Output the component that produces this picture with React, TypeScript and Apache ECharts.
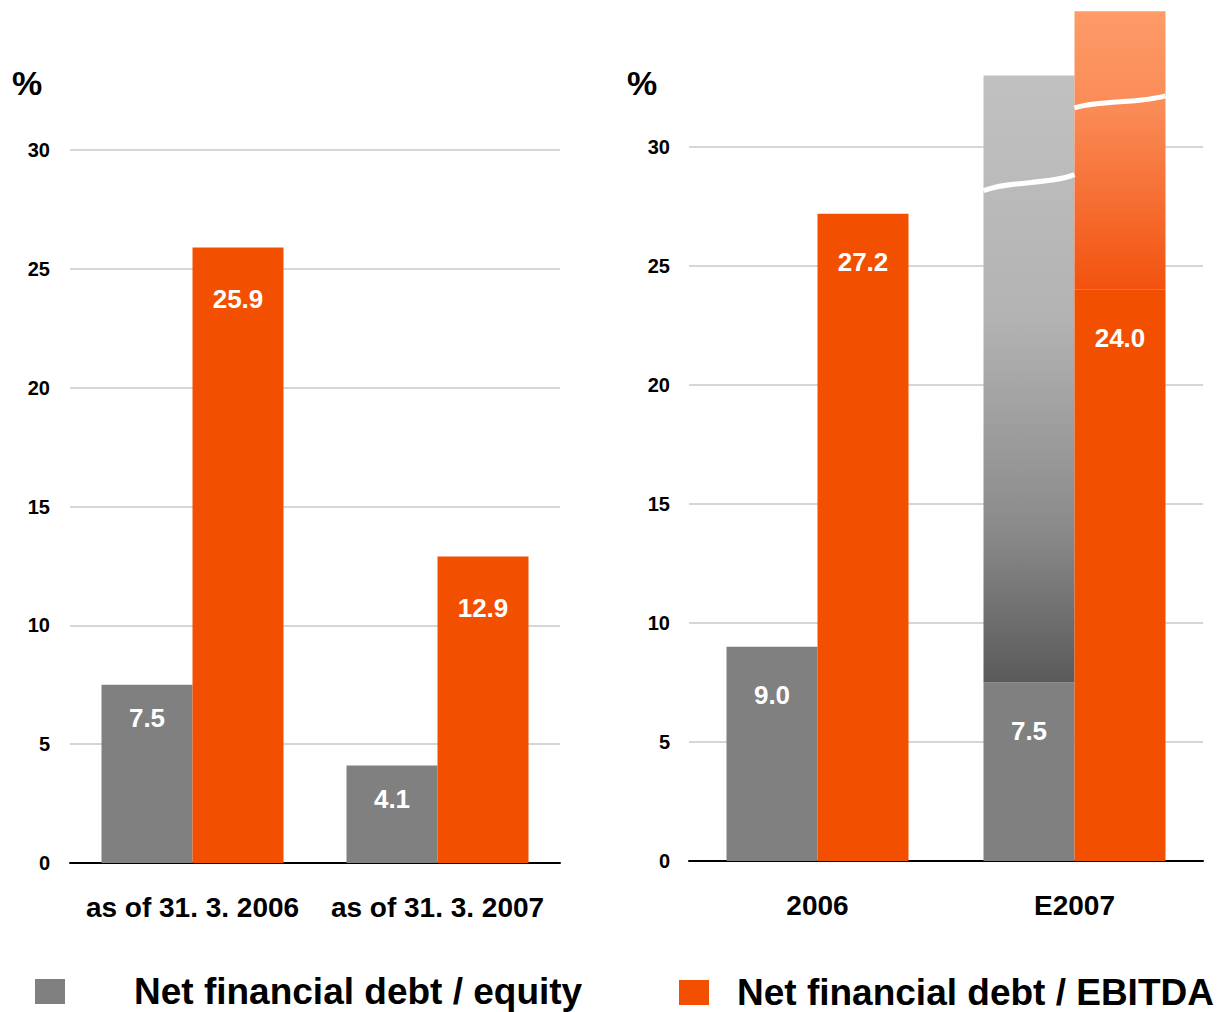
import React, { useEffect, useRef } from "react";
import * as echarts from "echarts";

const leftCategories = ["as of 31. 3. 2006", "as of 31. 3. 2007"];
const leftEquity = [7.5, 4.1];
const leftEbitda = [25.9, 12.9];

const rightCategories = ["2006", "E2007"];
const rightEquity = [9.0, 7.5];
const rightEbitda = [27.2, 24.0];
// extension (broken-axis) parts drawn above the real value
const rightEquityExt = [null, 25.5];
const rightEbitdaExt = [null, 11.7];
// break marker levels on E2007 bars: [categoryIndex, value, side]
const breakMarks = [
  [1, 28.5, -1],
  [1, 31.9, 1],
];

const yTicks = { min: 0, max: 30, interval: 5 };

const nameEquity = "Net financial debt / equity";
const nameEbitda = "Net financial debt / EBITDA";

const GRAY = "#808080";
const ORANGE = "#f25000";
const FONT = "'Liberation Sans', Arial, sans-serif";
const BAR_W = 91;

export default function App() {
  const ref = useRef<HTMLDivElement>(null);

  useEffect(() => {
    if (!ref.current) return;
    const chart = echarts.init(ref.current, null, { renderer: "svg" });

    const valueLabel = (distance: number) => ({
      show: true,
      position: "insideTop",
      distance,
      color: "#fff",
      fontSize: 26,
      fontWeight: "bold",
      fontFamily: FONT,
      formatter: (p: any) => (p.value == null ? "" : Number(p.value).toFixed(1)),
    });

    const yAxisBase = (gridIndex: number, margin: number) => ({
      type: "value",
      gridIndex,
      min: yTicks.min,
      max: yTicks.max,
      interval: yTicks.interval,
      axisLine: { show: false },
      axisTick: { show: false },
      axisLabel: {
        margin,
        color: "#000",
        fontSize: 20,
        fontWeight: "bold",
        fontFamily: FONT,
      },
      splitLine: { lineStyle: { color: "#c8c8c8", width: 1.5 } },
    });

    const xAxisBase = (gridIndex: number, data: string[]) => ({
      type: "category",
      gridIndex,
      data,
      axisLine: { lineStyle: { color: "#000", width: 2 } },
      axisTick: { show: false },
      axisLabel: {
        margin: 30,
        color: "#000",
        fontSize: 28,
        fontWeight: "bold",
        fontFamily: FONT,
        interval: 0,
      },
    });

    const legendText = (padLeft: number) => ({
      fontSize: 37,
      lineHeight: 37,
      fontWeight: "bold",
      color: "#000",
      fontFamily: FONT,
      padding: [0, 0, 0, padLeft],
    });

    const option: any = {
      animation: false,
      textStyle: { fontFamily: FONT },
      title: [
        {
          text: "%",
          left: 12,
          top: 66,
          padding: 0,
          textStyle: { fontSize: 34, fontWeight: "bold", color: "#000", fontFamily: FONT },
        },
        {
          text: "%",
          left: 627,
          top: 66,
          padding: 0,
          textStyle: { fontSize: 34, fontWeight: "bold", color: "#000", fontFamily: FONT },
        },
      ],
      legend: [
        {
          data: [nameEquity],
          left: 35,
          top: 973,
          padding: 0,
          itemWidth: 30,
          itemHeight: 25,
          icon: "rect",
          selectedMode: false,
          textStyle: legendText(64),
        },
        {
          data: [nameEbitda],
          left: 679,
          top: 974,
          padding: 0,
          itemWidth: 30,
          itemHeight: 25,
          icon: "rect",
          selectedMode: false,
          textStyle: legendText(23),
        },
      ],
      grid: [
        { left: 70, top: 150, width: 490, height: 713 },
        { left: 689, top: 147, width: 514, height: 714 },
      ],
      xAxis: [xAxisBase(0, leftCategories), xAxisBase(1, rightCategories)],
      yAxis: [yAxisBase(0, 20), yAxisBase(1, 19)],
      series: [
        {
          name: nameEquity,
          type: "bar",
          xAxisIndex: 0,
          yAxisIndex: 0,
          data: leftEquity,
          barWidth: BAR_W,
          barGap: "0%",
          itemStyle: { color: GRAY },
          label: valueLabel(20),
        },
        {
          name: nameEbitda,
          type: "bar",
          xAxisIndex: 0,
          yAxisIndex: 0,
          data: leftEbitda,
          barWidth: BAR_W,
          barGap: "0%",
          itemStyle: { color: ORANGE },
          label: valueLabel(39),
        },
        {
          name: nameEquity,
          type: "bar",
          xAxisIndex: 1,
          yAxisIndex: 1,
          stack: "eq",
          data: rightEquity,
          barWidth: BAR_W,
          barGap: "0%",
          clip: false,
          itemStyle: { color: GRAY },
          label: valueLabel(35),
        },
        {
          name: "eq-ext",
          type: "bar",
          xAxisIndex: 1,
          yAxisIndex: 1,
          stack: "eq",
          data: rightEquityExt,
          barWidth: BAR_W,
          barGap: "0%",
          clip: false,
          itemStyle: {
            color: {
              type: "linear",
              x: 0,
              y: 0,
              x2: 0,
              y2: 1,
              colorStops: [
                { offset: 0, color: "#c1c1c1" },
                { offset: 0.4, color: "#b3b3b3" },
                { offset: 0.75, color: "#8a8a8a" },
                { offset: 1, color: "#5a5a5a" },
              ],
            },
          },
        },
        {
          name: nameEbitda,
          type: "bar",
          xAxisIndex: 1,
          yAxisIndex: 1,
          stack: "eb",
          data: rightEbitda,
          barWidth: BAR_W,
          barGap: "0%",
          clip: false,
          itemStyle: { color: ORANGE },
          label: valueLabel(35),
        },
        {
          name: "eb-ext",
          type: "bar",
          xAxisIndex: 1,
          yAxisIndex: 1,
          stack: "eb",
          data: rightEbitdaExt,
          barWidth: BAR_W,
          barGap: "0%",
          clip: false,
          itemStyle: {
            color: {
              type: "linear",
              x: 0,
              y: 0,
              x2: 0,
              y2: 1,
              colorStops: [
                { offset: 0, color: "#fe9b67" },
                { offset: 0.35, color: "#fa8b57" },
                { offset: 1, color: "#f2520e" },
              ],
            },
          },
        },
        {
          name: "breaks",
          type: "custom",
          xAxisIndex: 1,
          yAxisIndex: 1,
          clip: false,
          z: 5,
          silent: true,
          data: breakMarks,
          renderItem: (params: any, api: any) => {
            const pt = api.coord([api.value(0), api.value(1)]);
            const side = api.value(2);
            const cx = pt[0] + side * (BAR_W / 2);
            const half = BAR_W / 2;
            const amp = side < 0 ? 8 : 6;
            const x1 = cx - half;
            const x2 = cx + half;
            return {
              type: "bezierCurve",
              shape: {
                x1,
                y1: pt[1] + amp,
                cpx1: x1 + BAR_W * 0.3,
                cpy1: pt[1] - amp * 0.3,
                cpx2: x1 + BAR_W * 0.7,
                cpy2: pt[1] + amp * 0.3,
                x2,
                y2: pt[1] - amp,
              },
              style: { stroke: "#fff", lineWidth: 5, fill: null },
            };
          },
        },
      ],
    };

    chart.setOption(option);
    return () => chart.dispose();
  }, []);

  return (
    <div
      ref={ref}
      style={{ position: "absolute", left: 0, top: 0, width: 1217, height: 1012, background: "#fff" }}
    />
  );
}
